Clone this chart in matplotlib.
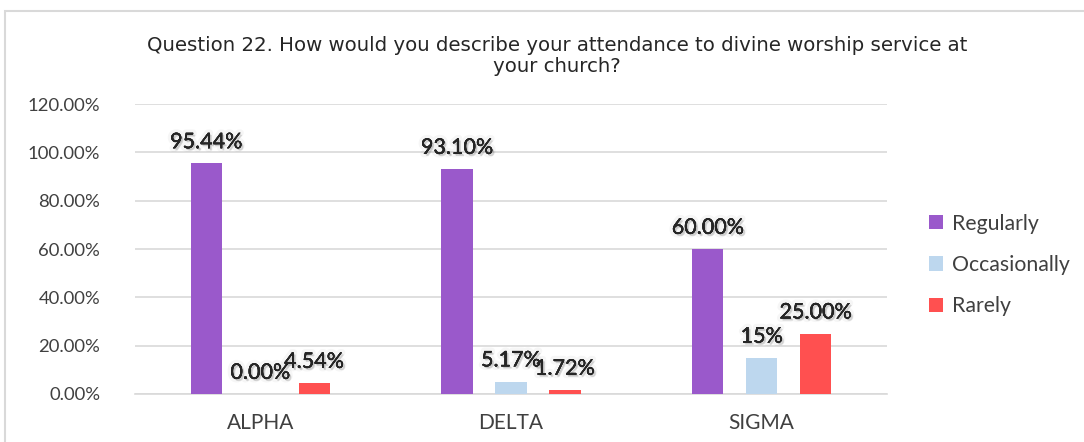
import numpy as np
import matplotlib
matplotlib.use("Agg")
import matplotlib.pyplot as plt
import matplotlib.patheffects as pe
from matplotlib.patches import Rectangle

# survey results per church group
groups = ["ALPHA", "DELTA", "SIGMA"]
answers = ["Regularly", "Occasionally", "Rarely"]
regularly = [95.44, 93.10, 60.00]
occasionally = [0.00, 5.17, 15.0]
rarely = [4.54, 1.72, 25.00]
# labels as printed on the bars
lbl_regularly = ["95.44%", "93.10%", "60.00%"]
lbl_occasionally = ["0.00%", "5.17%", "15%"]
lbl_rarely = ["4.54%", "1.72%", "25.00%"]

colors = ["#9A59CB", "#BDD7EE", "#FF5050"]
txt_col = "#404040"

plt.rcParams['font.family'] = ['Lato', 'DejaVu Sans']

fig = plt.figure(figsize=(10.84, 4.42), dpi=100)
ax = fig.add_axes([0.1245, 0.1086, 0.8183 - 0.1245, 0.7647 - 0.1086])

# outer chart frame (only top and left visible)
fig.patches.append(Rectangle((5 / 1084, -0.1), 1.2, 1.1 - 11 / 442,
                             transform=fig.transFigure, fill=False,
                             edgecolor="#d9d9d9", lw=1.5))

x = np.arange(len(groups))
w = 0.125
off = 0.215
# soft shadow behind the data labels
shadow = [pe.withStroke(linewidth=5, foreground=(0, 0, 0, 0.035)),
          pe.withSimplePatchShadow(offset=(1.5, -1.5), shadow_rgbFace="#000000", alpha=0.14),
          pe.withSimplePatchShadow(offset=(0.8, -0.8), shadow_rgbFace="#000000", alpha=0.1),
          pe.Normal()]

series = [regularly, occasionally, rarely]
labels = [lbl_regularly, lbl_occasionally, lbl_rarely]
for i, (vals, lbls) in enumerate(zip(series, labels)):
    xs = x + (i - 1) * off
    ax.bar(xs, vals, width=w, color=colors[i], label=answers[i], zorder=3)
    for xi, v, t in zip(xs, vals, lbls):
        ax.annotate(t, (xi, v), xytext=(0, 8), textcoords="offset points",
                    ha="center", va="bottom", fontsize=15.5, color="#262626",
                    path_effects=shadow, zorder=5)

ax.set_xlim(-0.5, 2.5)
ax.set_ylim(0, 120)
ax.set_yticks(np.arange(0, 121, 20))
ax.set_yticklabels([f"{v:.2f}%" for v in np.arange(0, 121, 20)])
ax.set_xticks(x)
ax.set_xticklabels(groups)
ax.tick_params(axis="both", length=0, colors=txt_col)
ax.tick_params(axis="y", pad=25, labelsize=13.3)
ax.tick_params(axis="x", pad=14, labelsize=15)
ax.grid(axis="y", color="#d9d9d9", lw=1.2, zorder=0)
for s in ["top", "right", "left"]:
    ax.spines[s].set_visible(False)
ax.spines["bottom"].set_color("#d9d9d9")
ax.spines["bottom"].set_linewidth(1.2)

fig.text(557 / 1084, 1 - 56 / 442,
         "Question 22. How would you describe your attendance to divine worship service at\nyour church?",
         ha="center", va="center", fontsize=14.2, color="#262626",
         family="DejaVu Sans", linespacing=1.1)

leg = ax.legend(loc="center left", bbox_to_anchor=(1.03, 0.445), frameon=False,
                fontsize=15.3, handlelength=0.65, handleheight=0.65,
                handletextpad=0.45, labelspacing=1.0, labelcolor=txt_col)

fig.savefig("out.png", dpi=100)
